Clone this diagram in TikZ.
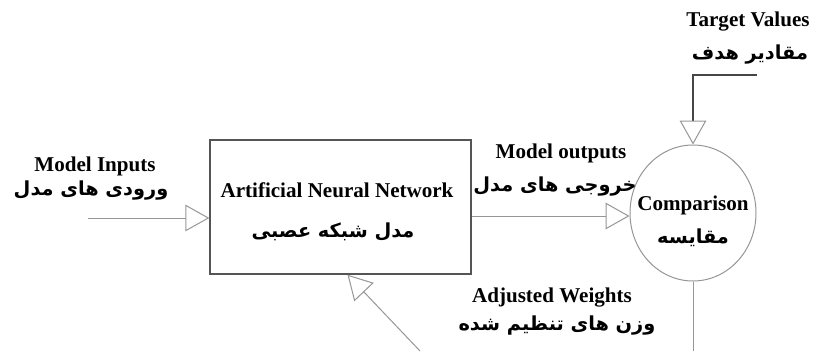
\documentclass[tikz,border=0pt]{standalone}
\usepackage{fontspec}
\usepackage{xcolor}
\usepackage{tikz}
\usetikzlibrary{arrows.meta,shapes.geometric,calc}
\setmainfont{Liberation Serif}
\newfontfamily\arabicfont[Script=Arabic]{DejaVu Sans}
\TeXXeTstate=1
\definecolor{boxgray}{RGB}{85, 85, 85}
\definecolor{linegray}{RGB}{150, 150, 150}
\definecolor{darkline}{RGB}{70, 70, 70}
\newcommand{\fa}[1]{{\arabicfont\bfseries\beginR #1\endR}}

\begin{document}
\begin{tikzpicture}[x=0.75pt,y=0.75pt,yscale=-1,xscale=1,
  enlbl/.style={inner sep=0.75pt,font=\fontsize{15.8}{18}\selectfont\bfseries},
  falbl/.style={inner sep=0.75pt,font=\fontsize{14.5}{18}\selectfont},
  annbox/.style={draw=boxgray,line width=1pt,inner sep=0pt,minimum width=195.75pt,minimum height=100.5pt},
  cmpbox/.style={ellipse,draw=linegray,line width=0.75pt,inner sep=0pt,minimum width=94.5pt,minimum height=102pt},
  flow/.style={draw=linegray,line width=0.75pt,-{Triangle[open,length=18pt,width=20pt,color=linegray,line width=0.75pt]}},
  wire/.style={draw=linegray,line width=0.75pt}]
\useasboundingbox (0,0) rectangle (814,351);

%Shape: Rectangle [id:ann]
\node[annbox] (ann) at (340.5,207) {};
%Shape: Ellipse [id:cmp]
\node[cmpbox] (cmp) at (693,213) {};

%Free ends
\coordinate (in) at (88,218);
\coordinate (tgt) at (757,75);
\coordinate (loopend) at (693,351);
\coordinate (loopstart) at (420,351);

%Straight Lines [id:input]
\draw[flow] (in) -- (in -| ann.west);
%Straight Lines [id:output]
\draw[flow] (ann.east |- 0,216) -- (cmp.west |- 0,216);
%Straight Lines [id:target]
\draw[flow,draw=darkline,line width=1.2pt] (tgt) -| (cmp.north);
%Straight Lines [id:loop]
\draw[wire] (cmp.south) -- (loopend);
%Straight Lines [id:feedback]
\draw[flow] (loopstart) -- ($(ann.south)+(7,0)$);

% Text Node
\node[enlbl] (inen) at (95,166) {Model Inputs};
% Text Node
\node[falbl] (infa) at (91,191) {\fa{ورودی های مدل}};
% Text Node
\node[enlbl] (annen) at (337,190) {Artificial Neural Network};
% Text Node
\node[falbl] (annfa) at (333,232) {\fa{مدل شبکه عصبی}};
% Text Node
\node[enlbl] (outen) at (561,153) {Model outputs};
% Text Node
\node[falbl] (outfa) at (555,187) {\fa{خروجی های مدل}};
% Text Node
\node[enlbl] (cmpen) at (693,205) {Comparison};
% Text Node
\node[falbl] (cmpfa) at (693,238) {\fa{مقایسه}};
% Text Node
\node[enlbl] (tgten) at (748,22) {Target Values};
% Text Node
\node[falbl] (tgtfa) at (750,55) {\fa{مقادیر هدف}};
% Text Node
\node[enlbl] (adjen) at (552,298) {Adjusted Weights};
% Text Node
\node[falbl] (adjfa) at (557,326) {\fa{وزن های تنظیم شده}};

\end{tikzpicture}
\end{document}
